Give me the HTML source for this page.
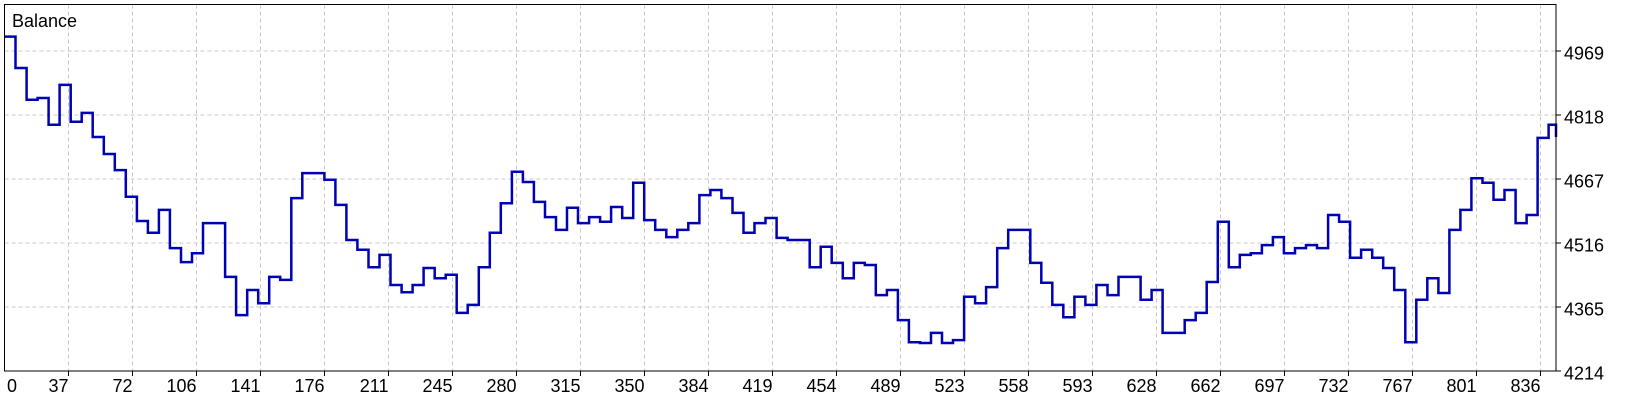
<!DOCTYPE html>
<html><head><meta charset="utf-8"><style>
html,body{margin:0;padding:0;background:#fff;}
svg{display:block;font-family:"Liberation Sans","DejaVu Sans",sans-serif;}
</style></head><body>
<svg id="chart" width="1640" height="400" viewBox="0 0 1640 400" xmlns="http://www.w3.org/2000/svg">
<rect x="0" y="0" width="1640" height="400" fill="#fff"/>
<g id="grid"></g>
<g id="series"></g>
<rect x="4.5" y="4.5" width="1551.5" height="366.5" fill="none" stroke="#000" stroke-width="1"/>
<g id="axes"></g>
<text x="12" y="27" font-size="18" fill="#000">Balance</text>
</svg>
<script>
const indices = [0,6,12,18,24,30,36,42,48,54,60,66,72,78,84,90,96,102,108,114,120,126,132,138,144,150,156,162,168,174,180,186,192,198,204,210,216,222,228,234,240,246,252,258,264,270,276,282,288,294,300,306,312,318,324,330,336,342,348,354,360,366,372,378,384,390,396,402,408,414,420,426,432,438,444,450,456,462,468,474,480,486,492,498,504,510,516,522,528,534,540,546,552,558,564,570,576,582,588,594,600,606,612,618,624,630,636,642,648,654,660,666,672,678,684,690,696,702,708,714,720,726,732,738,744,750,756,762,768,774,780,786,792,798,804,810,816,822,828,834,840,844];
const balance = [5003,4929,4854,4858,4795,4889,4802,4823,4766,4726,4688,4625,4568,4540,4594,4504,4471,4492,4563,4563,4436,4346,4405,4374,4436,4429,4622,4681,4681,4665,4606,4523,4500,4459,4488,4417,4400,4417,4457,4433,4441,4351,4370,4459,4540,4610,4684,4660,4613,4577,4547,4599,4563,4577,4566,4601,4575,4658,4570,4547,4530,4547,4563,4629,4641,4622,4587,4540,4563,4575,4528,4523,4523,4459,4507,4469,4433,4469,4464,4393,4405,4334,4282,4280,4304,4280,4287,4389,4374,4412,4504,4547,4547,4469,4422,4370,4341,4389,4370,4417,4393,4436,4436,4382,4405,4304,4304,4334,4351,4424,4566,4459,4488,4492,4511,4530,4492,4504,4511,4504,4582,4566,4481,4500,4481,4457,4405,4282,4382,4433,4398,4547,4594,4669,4658,4618,4641,4563,4582,4764,4795,4766];
const xTickLabels = ["37","72","106","141","176","211","245","280","315","350","384","419","454","489","523","558","593","628","662","697","732","767","801","836"];
const yTickValues = [4214,4365,4516,4667,4818,4969];

const NS="http://www.w3.org/2000/svg";
const L=4.5,R=1556,T=4.5,B=371;
const xMax=844, yMin=4214, yStep=151, yPx=64;
function xs(i){return L+i*(R-L)/xMax;}
function ys(v){return B-(v-yMin)/yStep*yPx;}
function mk(tag,attrs,parent){const e=document.createElementNS(NS,tag);for(const k in attrs)e.setAttribute(k,attrs[k]);parent.appendChild(e);return e;}
const grid=document.getElementById('grid'),axes=document.getElementById('axes'),series=document.getElementById('series');

xTickLabels.forEach((lab,k)=>{
  const x=L+64*(k+1);
  const g=mk('line',{x1:x,x2:x,y1:T,y2:B,stroke:'#c8c8c8','stroke-dasharray':'4,3','stroke-width':1},grid);
  
  
  const t=mk('line',{x1:x,x2:x,y1:B,y2:B+5,stroke:'#000','stroke-width':1},axes);
  
  
  const tx=mk('text',{x:x,y:392,'font-size':18,'text-anchor':'end',fill:'#000'},axes);
  tx.textContent=lab;
  
  
});
const t0=mk('text',{x:7,y:392,'font-size':18,fill:'#000'},axes);
t0.textContent="0";



yTickValues.forEach(v=>{
  const y=ys(v);
  if(v!==yMin){
    const g=mk('line',{x1:L,x2:R,y1:y,y2:y,stroke:'#c8c8c8','stroke-dasharray':'4,3','stroke-width':1},grid);
    
    
  }
  const t=mk('line',{x1:R,x2:R+5,y1:y,y2:y,stroke:'#000','stroke-width':1},axes);
  
  
  const tx=mk('text',{x:1564,y:y+8.5,'font-size':18,fill:'#000'},axes);
  tx.textContent=String(v);
  
  
});

let d='';
for(let k=0;k<indices.length;k++){
  const x=xs(indices[k]).toFixed(1),y=ys(balance[k]).toFixed(1);
  if(k===0)d+='M'+x+' '+y;
  else d+=' H'+x+' V'+y;
}
const p=mk('path',{d:d,fill:'none',stroke:'#0000b4','stroke-width':2.5,'stroke-linejoin':'miter'},series);


</script>
</body></html>
